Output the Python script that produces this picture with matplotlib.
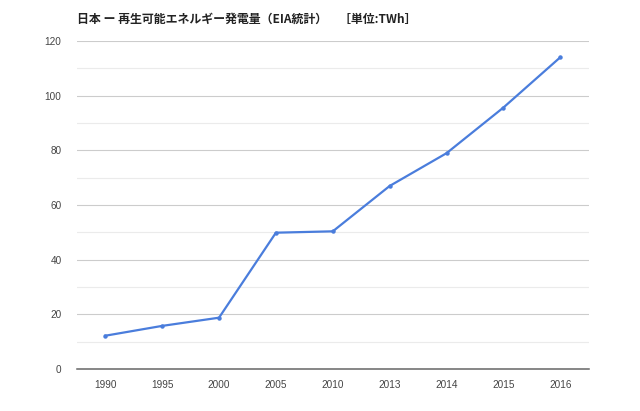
import numpy as np
import matplotlib
matplotlib.use('Agg')
import matplotlib.pyplot as plt

plt.rcParams['font.family'] = ['Liberation Sans', 'Noto Sans CJK JP', 'DejaVu Sans']

years = ['1990', '1995', '2000', '2005', '2010', '2013', '2014', '2015', '2016']
twh = [12.2, 15.8, 18.8, 49.9, 50.4, 67.0, 79.0, 95.7, 114.1]
yticks = [0, 20, 40, 60, 80, 100, 120]

fig = plt.figure(figsize=(6.4, 4.11), dpi=100)
ax = fig.add_axes([0.120, 0.102, 0.800, 0.798])

x = np.arange(len(years))
ax.plot(x, twh, color='#4a7ddc', lw=1.6, marker='o', ms=2.2, zorder=3)

ax.set_xlim(-0.5, len(years) - 0.5)
ax.set_ylim(0, 120)
ax.set_xticks(x)
ax.set_xticklabels(years)
ax.set_yticks(yticks)
ax.set_yticks(np.arange(10, 120, 20), minor=True)
ax.grid(axis='y', which='major', color='#cccccc', lw=0.8)
ax.grid(axis='y', which='minor', color='#ebebeb', lw=0.8)
ax.set_axisbelow(True)
for s in ['top', 'right', 'left']:
    ax.spines[s].set_visible(False)
ax.spines['bottom'].set_color('#666666')
ax.spines['bottom'].set_linewidth(1.1)
ax.tick_params(which='both', length=0, labelsize=7.2, colors='#444444', pad=8)
ax.tick_params(axis='y', pad=11)

fig.text(0.121, 0.952, '日本 ー 再生可能エネルギー発電量（EIA統計）　［単位:TWh］',
         fontsize=8.6, fontweight='bold', color='#222222', va='center', ha='left',
         family=['Noto Sans CJK JP', 'DejaVu Sans'])

fig.savefig('out.png', dpi=100)
